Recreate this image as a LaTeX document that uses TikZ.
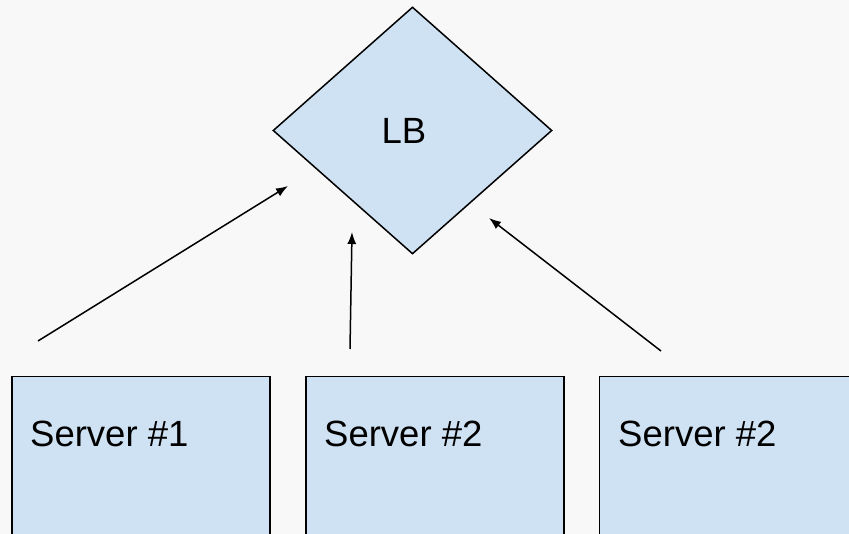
\documentclass[tikz,border=0pt]{standalone}
\usepackage{fontspec}
\setmainfont{Liberation Sans}
\usetikzlibrary{shapes.geometric,arrows.meta}
\definecolor{bgcol}{HTML}{F8F8F8}
\definecolor{boxfill}{HTML}{CFE2F3}
\begin{document}
\begin{tikzpicture}[x=1pt,y=1pt,
  shapebox/.style={draw=black,line width=1.5pt,fill=boxfill},
  server/.style={shapebox,rectangle,anchor=north west,minimum width=258pt,minimum height=200pt,inner sep=0pt},
  lbshape/.style={shapebox,diamond,minimum width=279pt,minimum height=247pt,inner sep=0pt},
  lbl/.style={font=\fontsize{36.5}{40}\selectfont,inner sep=0pt},
  link/.style={line width=1.5pt,-{Latex[length=12pt,width=9pt]}}]
  \useasboundingbox (0,0) rectangle (849,534);
  \clip (0,0) rectangle (849,534);
  \fill[bgcol] (0,0) rectangle (849,534);

  % load balancer
  \node[lbshape] (lb) at (412.5,403.5) {};
  \node[lbl] (lbtext) at (404,403.5) {LB};

  % servers
  \node[server] (s1) at (11,158) {};
  \node[server] (s2) at (305,158) {};
  \node[server] (s3) at (598.5,158) {};
  \node[lbl,anchor=base west] (s1text) at (30,87) {Server \#1};
  \node[lbl,anchor=base west] (s2text) at (324,87) {Server \#2};
  \node[lbl,anchor=base west] (s3text) at (618,87) {Server \#2};

  % connector end points
  \coordinate (a1) at (38,193);
  \coordinate (b1) at (288,348);
  \coordinate (a2) at (350,185);
  \coordinate (b2) at (352,302);
  \coordinate (a3) at (661,183);
  \coordinate (b3) at (489,316);

  \draw[link] (a1) -- (b1);
  \draw[link] (a2) -- (b2);
  \draw[link] (a3) -- (b3);
\end{tikzpicture}
\end{document}
